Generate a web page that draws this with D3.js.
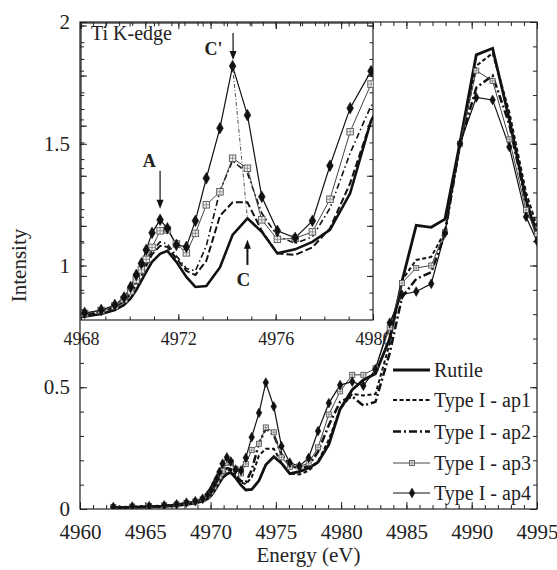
<!DOCTYPE html>
<html><head><meta charset="utf-8">
<script src="https://cdn.jsdelivr.net/npm/d3@7"></script>
<style>
body{margin:0;background:#fff}
svg text{font-family:"Liberation Serif","Times New Roman",Times,"DejaVu Serif",serif;fill:#222}
</style></head><body>
<svg id="c" width="557" height="570" font-family="Liberation Serif, Times New Roman, serif"></svg>
<script>
// ---------- data ----------
const energy = [4962.55,4964.0,4965.3,4966.45,4967.4,4968.15,4968.83,4969.39,4969.77,4970.04,4970.27,4970.48,4970.68,4970.92,4971.25,4971.55,4971.92,4972.33,4972.70,4973.15,4973.71,4974.23,4974.84,4975.43,4976.07,4976.80,4977.51,4978.23,4979.06,4979.92,4980.85,4981.70,4982.63,4983.72,4984.66,4985.75,4986.90,4987.95,4989.10,4990.35,4991.60,4992.88,4994.16,4995.00];
const rutile = [0.006,0.007,0.009,0.011,0.014,0.019,0.024,0.032,0.042,0.055,0.072,0.090,0.108,0.128,0.144,0.150,0.128,0.098,0.078,0.080,0.117,0.182,0.215,0.188,0.145,0.153,0.168,0.192,0.265,0.41,0.49,0.53,0.555,0.70,0.935,1.165,1.157,1.19,1.504,1.865,1.892,1.60,1.27,1.12];
const ap1 = [0.007,0.009,0.011,0.013,0.017,0.022,0.028,0.037,0.049,0.064,0.082,0.100,0.120,0.143,0.160,0.158,0.135,0.110,0.102,0.130,0.220,0.247,0.247,0.190,0.145,0.142,0.157,0.195,0.285,0.41,0.473,0.466,0.472,0.68,0.94,1.023,1.035,1.14,1.49,1.82,1.872,1.63,1.30,1.16];
const ap2 = [0.007,0.009,0.011,0.014,0.018,0.023,0.029,0.039,0.052,0.068,0.088,0.107,0.128,0.150,0.168,0.164,0.140,0.115,0.110,0.160,0.270,0.330,0.305,0.225,0.180,0.165,0.178,0.235,0.345,0.44,0.462,0.425,0.440,0.64,0.87,0.945,0.972,1.13,1.50,1.73,1.78,1.58,1.26,1.14];
const ap3 = [0.008,0.010,0.012,0.015,0.019,0.025,0.031,0.040,0.053,0.070,0.092,0.112,0.133,0.157,0.190,0.192,0.164,0.146,0.185,0.242,0.268,0.335,0.315,0.212,0.173,0.175,0.188,0.253,0.388,0.483,0.551,0.551,0.578,0.745,0.928,0.990,1.000,1.137,1.50,1.80,1.758,1.518,1.228,1.13];
const ap4 = [0.008,0.010,0.012,0.015,0.019,0.026,0.032,0.042,0.057,0.078,0.102,0.125,0.152,0.186,0.212,0.195,0.162,0.158,0.210,0.295,0.395,0.519,0.421,0.258,0.190,0.176,0.210,0.320,0.435,0.509,0.523,0.506,0.574,0.765,0.880,0.893,0.925,1.133,1.50,1.69,1.68,1.487,1.20,1.10];

const seriesNames = ["Rutile","Type I - ap1","Type I - ap2","Type I - ap3","Type I - ap4"];
const mainXTicks = [4960,4965,4970,4975,4980,4985,4990,4995];
const mainYTicks = [0,0.5,1,1.5,2];
const mainYTickLabels = ["0","0.5","1","1.5","2"];
const insetXTicks = [4968,4972,4976,4980];
const xLabel = "Energy (eV)";
const yLabel = "Intensity";
const insetTitle = "Ti K-edge";

// ---------- setup ----------
const FONT = '"Liberation Serif","Times New Roman",Times,"DejaVu Serif",serif';
const svg = d3.select("#c");
const M = {l:80, r:537, t:22, b:509};
const I = {l:81, r:373, t:23, b:320};
const x = d3.scaleLinear([4960,4995],[M.l,M.r]);
const y = d3.scaleLinear([0,2],[M.b,M.t]);
const ix = d3.scaleLinear([4968,4980],[I.l,I.r]);
const iy = d3.scaleLinear([0.012,0.605],[I.b,I.t]);

const defs = svg.append("defs");
defs.append("clipPath").attr("id","cm").append("rect").attr("x",M.l).attr("y",M.t).attr("width",M.r-M.l).attr("height",M.b-M.t);
defs.append("clipPath").attr("id","ci").append("rect").attr("x",I.l).attr("y",I.t).attr("width",I.r-I.l).attr("height",I.b-I.t);

const allSeries = [rutile, ap1, ap2, ap3, ap4];

function styleAxis(g){
  g.attr("font-family",null).attr("font-size",null);
  g.select(".domain").remove();
  g.selectAll(".tick line").attr("stroke","#222").attr("stroke-width",1);
}
function range(a,b,s){const r=[];for(let v=a;v<=b+1e-9;v+=s)r.push(+v.toFixed(4));return r;}

function axesFor(xs, ys, box, xMajor, xMinor, yMajor, yMinor, majLen, minLen, labelsX, labelsY, fs, xPad){
  svg.append("g").attr("transform",`translate(0,${box.b})`)
    .call(d3.axisBottom(xs).tickValues(xMinor).tickSize(-minLen).tickFormat("")).call(styleAxis);
  const bx = svg.append("g").attr("transform",`translate(0,${box.b})`)
    .call(d3.axisBottom(xs).tickValues(xMajor).tickSize(-majLen).tickPadding(xPad).tickFormat(labelsX?d3.format("d"):""));
  styleAxis(bx); bx.selectAll("text").style("font-size",fs+"px");
  svg.append("g").attr("transform",`translate(0,${box.t})`)
    .call(d3.axisTop(xs).tickValues(xMinor).tickSize(-minLen).tickFormat("")).call(styleAxis);
  svg.append("g").attr("transform",`translate(0,${box.t})`)
    .call(d3.axisTop(xs).tickValues(xMajor).tickSize(-majLen).tickFormat("")).call(styleAxis);
  svg.append("g").attr("transform",`translate(${box.l},0)`)
    .call(d3.axisLeft(ys).tickValues(yMinor).tickSize(-minLen).tickFormat("")).call(styleAxis);
  const ly = svg.append("g").attr("transform",`translate(${box.l},0)`)
    .call(d3.axisLeft(ys).tickValues(yMajor).tickSize(-majLen).tickPadding(10)
      .tickFormat(labelsY?((d,i)=>labelsY[i]):""));
  styleAxis(ly); ly.selectAll("text").style("font-size",fs+"px");
  svg.append("g").attr("transform",`translate(${box.r},0)`)
    .call(d3.axisRight(ys).tickValues(yMinor).tickSize(-minLen).tickFormat("")).call(styleAxis);
  svg.append("g").attr("transform",`translate(${box.r},0)`)
    .call(d3.axisRight(ys).tickValues(yMajor).tickSize(-majLen).tickFormat("")).call(styleAxis);
  svg.append("rect").attr("x",box.l).attr("y",box.t).attr("width",box.r-box.l).attr("height",box.b-box.t)
    .attr("fill","none").attr("stroke","#222").attr("stroke-width",1.2);
}
axesFor(x,y,M,mainXTicks,d3.range(4960,4996,1),mainYTicks,range(0,2,0.1),7,4,true,mainYTickLabels,21,15);

svg.append("text").attr("x",(M.l+M.r)/2).attr("y",562).attr("text-anchor","middle")
  .style("font-size","21px").text(xLabel);
svg.append("text").attr("transform",`translate(26,${(M.t+M.b)/2}) rotate(-90)`).attr("text-anchor","middle")
  .style("font-size","21px").text(yLabel);

// ---------- inset axes ----------
axesFor(ix,iy,I,insetXTicks,d3.range(4968,4981,1),[0.1,0.2,0.3,0.4,0.5,0.6],range(0.0333,0.6,0.1/3),6,3.5,true,null,18,12);

svg.append("text").attr("x",91).attr("y",40).style("font-size","20px").text(insetTitle);

// ---------- styles ----------
const mainStyle = [
  {w:2.8, dash:null, c:"#111"},
  {w:2.0, dash:"4,2.5", c:"#111"},
  {w:2.5, dash:"8,3,2,3", c:"#111"},
  {w:1.0, dash:null, c:"#444"},
  {w:1.2, dash:null, c:"#111"}
];
const insetStyle = [
  {w:2.6, dash:null, c:"#111"},
  {w:2.0, dash:"7,3", c:"#111"},
  {w:1.6, dash:"6,3,1.5,3", c:"#111"},
  {w:1.0, dash:null, c:"#444"},
  {w:1.2, dash:null, c:"#111"}
];

function drawSquare(g, cx, cy, s){
  g.append("rect").attr("x",cx-s/2).attr("y",cy-s/2).attr("width",s).attr("height",s)
    .attr("fill","#eee").attr("stroke","#555").attr("stroke-width",0.9);
  g.append("path").attr("d",`M${cx-s/2},${cy}H${cx+s/2}M${cx},${cy-s/2}V${cy+s/2}`)
    .attr("stroke","#777").attr("stroke-width",0.7);
}
function drawDiamond(g, cx, cy, size){
  g.append("path").attr("d",d3.symbol(d3.symbolDiamond,size)()).attr("transform",`translate(${cx},${cy})`)
    .attr("fill","#111").attr("stroke","#111").attr("stroke-width",0.5);
}

function drawSeries(xs, ys, clip, styles, sq, dm){
  const g = svg.append("g").attr("clip-path",`url(#${clip})`);
  allSeries.forEach((vals,k)=>{
    const data = energy.map((e,i)=>[e, vals[i]]);
    const line = d3.line().x(d=>xs(d[0])).y(d=>ys(d[1]));
    const st = styles[k];
    g.append("path").attr("d",line(data)).attr("fill","none").attr("stroke",st.c)
      .attr("stroke-width",st.w).attr("stroke-dasharray",st.dash).attr("stroke-linejoin","miter");
  });
  const mg = g.append("g");
  energy.forEach((e,i)=>drawSquare(mg, xs(e), ys(ap3[i]), sq));
  energy.forEach((e,i)=>drawDiamond(mg, xs(e), ys(ap4[i]), dm));
  return g;
}
drawSeries(ix, iy, "ci", insetStyle, 6.5, 40);

// inset annotations (anchored to data)
const iPeak4 = ap4.indexOf(d3.max(ap4.slice(0,30)));
const iPeakR = 22;
svg.append("g").attr("clip-path","url(#ci)").append("line")
  .attr("x1",ix(energy[iPeak4])).attr("y1",iy(ap4[iPeak4]))
  .attr("x2",ix(energy[iPeakR])).attr("y2",iy(rutile[iPeakR]))
  .attr("stroke","#222").attr("stroke-width",0.8).attr("stroke-dasharray","4,2,1,2");

function arrow(xv, yFrom, yTo, w){
  const X = ix(xv), Y1 = iy(yFrom), Y2 = iy(yTo);
  const dir = Y2 > Y1 ? 1 : -1;
  svg.append("line").attr("x1",X).attr("y1",Y1).attr("x2",X).attr("y2",Y2-dir*8)
    .attr("stroke","#111").attr("stroke-width",w);
  svg.append("path").attr("d",`M${X-3.5},${Y2-dir*9}L${X+3.5},${Y2-dir*9}L${X},${Y2}Z`).attr("fill","#111");
}
arrow(energy[14], 0.31, ap4[14]+0.022, 1.2);
arrow(energy[iPeak4]+0.02, 0.585, ap4[iPeak4]+0.012, 1.2);
arrow(energy[iPeakR], 0.122, rutile[iPeakR]-0.043, 2);
svg.append("text").attr("x",ix(4970.8)).attr("y",iy(0.318)).attr("text-anchor","middle")
  .style("font-size","18px").style("font-weight","bold").text("A");
svg.append("text").attr("x",ix(4973.45)).attr("y",iy(0.542)).attr("text-anchor","middle")
  .style("font-size","18px").style("font-weight","bold").text("C'");
svg.append("text").attr("x",ix(4974.67)).attr("y",iy(0.080)).attr("text-anchor","middle")
  .style("font-size","19px").style("font-weight","bold").text("C");

// main data
drawSeries(x, y, "cm", mainStyle, 5, 28);

// ---------- legend ----------
const legY = [370,400,431.5,463,493];
const lg = svg.append("g");
seriesNames.forEach((n,k)=>{
  const st = mainStyle[k];
  lg.append("line").attr("x1",393).attr("x2",430).attr("y1",legY[k]).attr("y2",legY[k])
    .attr("stroke",st.c).attr("stroke-width",st.w).attr("stroke-dasharray",st.dash);
  if(k===3) drawSquare(lg, 412, legY[k], 5);
  if(k===4) drawDiamond(lg, 412, legY[k], 28);
  lg.append("text").attr("x",434).attr("y",legY[k]).attr("dy","0.35em").style("font-size","20px").text(n);
});

svg.selectAll("text").style("font-family",FONT).style("fill","#222");
</script>
</body></html>
